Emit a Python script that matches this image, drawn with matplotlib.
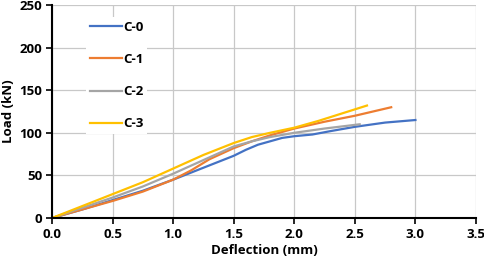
import matplotlib
matplotlib.use('Agg')
import matplotlib.pyplot as plt

# load-deflection data
d_c0 = [0, 0.25, 0.5, 0.75, 1.0, 1.25, 1.5, 1.6, 1.7, 1.8, 1.9, 2.0, 2.15, 2.3, 2.5, 2.75, 3.0]
p_c0 = [0, 10, 21, 32, 45, 59, 73, 80, 86, 90, 94, 96, 98, 102, 107, 112, 115]
d_c1 = [0, 0.25, 0.5, 0.75, 1.0, 1.15, 1.3, 1.5, 1.65, 1.8, 2.0, 2.25, 2.5, 2.8]
p_c1 = [0, 10, 20, 31, 45, 56, 69, 82, 90, 97, 105, 113, 120, 130]
d_c2 = [0, 0.25, 0.5, 0.75, 1.0, 1.25, 1.5, 1.65, 1.8, 2.0, 2.25, 2.54]
p_c2 = [0, 12, 24, 37, 52, 68, 84, 90, 95, 100, 105, 110]
d_c3 = [0, 0.25, 0.5, 0.75, 1.0, 1.25, 1.5, 1.65, 1.8, 2.0, 2.2, 2.4, 2.6]
p_c3 = [0, 14, 28, 42, 58, 74, 88, 95, 100, 106, 114, 123, 132]

names = ['C-0', 'C-1', 'C-2', 'C-3']
colors = ['#4472C4', '#ED7D31', '#A5A5A5', '#FFC000']

plt.rcParams['font.family'] = ['Open Sans', 'DejaVu Sans']
fig = plt.figure(figsize=(4.84, 2.62), dpi=100)
ax = fig.add_axes([52/484, 1-218/262, (476-52)/484, (218-5)/262])

for d, p, c, n in zip([d_c0, d_c1, d_c2, d_c3], [p_c0, p_c1, p_c2, p_c3], colors, names):
    ax.plot(d, p, color=c, lw=1.6, label=n)

ax.set_xlim(0, 3.5)
ax.set_ylim(0, 250)
ax.set_xticks([0, 0.5, 1.0, 1.5, 2.0, 2.5, 3.0, 3.5])
ax.set_xticklabels(['0.0', '0.5', '1.0', '1.5', '2.0', '2.5', '3.0', '3.5'])
ax.set_yticks(range(0, 251, 50))
ax.grid(True, color='#C8C8C8', lw=0.9)
ax.set_axisbelow(True)
for s in ['top', 'right']:
    ax.spines[s].set_visible(False)
for s in ['left', 'bottom']:
    ax.spines[s].set_linewidth(1.5)
ax.tick_params(direction='out', length=4, width=1.2, labelsize=9.5, pad=3)
for t in ax.get_xticklabels() + ax.get_yticklabels():
    t.set_fontweight('bold')
ax.set_xlabel('Deflection (mm)', fontsize=9.5, fontweight='bold', labelpad=2)
ax.set_ylabel('Load (kN)', fontsize=9.5, fontweight='bold', labelpad=3)

leg = ax.legend(loc='upper left', bbox_to_anchor=(0.065, 0.975), frameon=True, fancybox=False,
                edgecolor='none', facecolor='white', framealpha=1, borderpad=0.3,
                labelspacing=1.45, handlelength=2.4, handletextpad=0.1,
                prop={'weight': 'bold', 'size': 9.5})

fig.savefig('out.png', dpi=100)
